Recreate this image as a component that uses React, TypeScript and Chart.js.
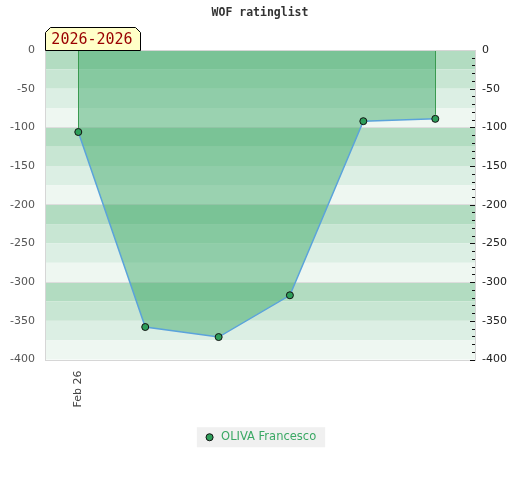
import React, { useEffect, useRef } from 'react';
import { Chart, registerables } from 'chart.js';

Chart.register(...registerables);

const chartTitle = 'WOF ratinglist';
const seasonLabel = '2026-2026';
const playerName = 'OLIVA Francesco';
const xPositions = [0, 0.93, 1.95, 2.94, 3.96, 4.96];
const ratingValues = [-106, -358, -371, -317, -92, -89];
const xTickValues = [0];
const xTickLabels = ['Feb 26'];
const yMin = -400;
const yMax = 0;
const yStep = 50;
const minorTickStep = 10;
const bandStep = 25;
const bandColors = ['#b2dcc1', '#c8e6d3', '#dcefe4', '#eef7f1'];

export default function App() {
  const canvasRef = useRef<HTMLCanvasElement | null>(null);

  useEffect(() => {
    document.body.style.margin = '0';
    const canvas = canvasRef.current;
    if (!canvas) return;

    const bandsPlugin = {
      id: 'bands',
      beforeDraw(chart: any) {
        const { ctx, chartArea, scales } = chart;
        const y = scales.y;
        ctx.save();
        let i = 0;
        for (let v = yMax; v > yMin; v -= bandStep, i++) {
          const top = y.getPixelForValue(v);
          const bottom = y.getPixelForValue(v - bandStep);
          ctx.fillStyle = bandColors[i % bandColors.length];
          ctx.fillRect(chartArea.left, top, chartArea.right - chartArea.left, bottom - top);
        }
        const hb = chart.legend && chart.legend.legendHitBoxes && chart.legend.legendHitBoxes[0];
        if (hb) {
          ctx.fillStyle = '#f0f0f0';
          const cy = hb.top + hb.height / 2;
          ctx.fillRect(hb.left - 7, cy - 10, hb.width + 16, 20);
        }
        ctx.restore();
      },
    };

    const overlayPlugin = {
      id: 'overlay',
      afterDatasetsDraw(chart: any) {
        const { ctx, scales } = chart;
        const x = scales.x;
        const y = scales.y;
        ctx.save();
        ctx.strokeStyle = '#3a9a50';
        ctx.lineWidth = 1;
        const ends = [0, xPositions.length - 1];
        ends.forEach((idx) => {
          const px = Math.round(x.getPixelForValue(xPositions[idx])) + 0.5;
          const py = y.getPixelForValue(ratingValues[idx]) - 4;
          ctx.beginPath();
          ctx.moveTo(px, y.getPixelForValue(yMax));
          ctx.lineTo(px, py);
          ctx.stroke();
        });
        ctx.restore();
      },
      afterDraw(chart: any) {
        const { ctx, chartArea, scales } = chart;
        const y2 = scales.y2;
        ctx.save();
        ctx.strokeStyle = '#d6d6d6';
        ctx.lineWidth = 1;
        ctx.strokeRect(
          Math.round(chartArea.left) + 0.5,
          Math.round(chartArea.top) + 0.5,
          Math.round(chartArea.right - chartArea.left),
          Math.round(chartArea.bottom - chartArea.top)
        );
        ctx.strokeStyle = '#111';
        for (let v = yMax - minorTickStep; v >= yMin; v -= minorTickStep) {
          const py = Math.round(y2.getPixelForValue(v)) + 0.5;
          const len = v % yStep === 0 ? 5 : 3;
          ctx.beginPath();
          ctx.moveTo(chartArea.right - len, py);
          ctx.lineTo(chartArea.right, py);
          ctx.stroke();
        }
        const l = Math.round(chartArea.left) + 0.5;
        const b = Math.round(chartArea.top) + 0.5;
        const t = b - 23;
        const r = l + 95;
        const c = 5;
        ctx.beginPath();
        ctx.moveTo(l, b);
        ctx.lineTo(l, t + c);
        ctx.lineTo(l + c, t);
        ctx.lineTo(r - c, t);
        ctx.lineTo(r, t + c);
        ctx.lineTo(r, b);
        ctx.closePath();
        ctx.fillStyle = '#ffffc8';
        ctx.fill();
        ctx.strokeStyle = '#000';
        ctx.stroke();
        ctx.fillStyle = '#990000';
        ctx.font = '15px "DejaVu Sans Mono"';
        ctx.textAlign = 'center';
        ctx.textBaseline = 'middle';
        ctx.fillText(seasonLabel, (l + r) / 2 - 1, (t + b) / 2 + 1);
        ctx.restore();
      },
    };

    Chart.defaults.font.family = 'DejaVu Sans';

    const chart = new Chart(canvas, {
      type: 'line',
      data: {
        datasets: [
          {
            label: playerName,
            data: xPositions.map((xv, i) => ({ x: xv, y: ratingValues[i] })),
            borderColor: '#5ba3db',
            borderWidth: 1.5,
            backgroundColor: 'rgba(59,168,101,0.47)',
            fill: 'origin',
            tension: 0,
            pointRadius: 3.5,
            pointHoverRadius: 3.5,
            pointBackgroundColor: '#2e9e5a',
            pointBorderColor: '#111',
            pointBorderWidth: 1,
          },
        ],
      },
      options: {
        animation: false,
        responsive: false,
        events: [],
        layout: { padding: { left: 0, right: 0, top: 0, bottom: 27 } },
        plugins: {
          title: {
            display: true,
            text: chartTitle,
            color: '#333',
            font: { family: 'DejaVu Sans Mono', size: 11.5, weight: 'bold' },
            padding: { top: 6, bottom: 30.2 },
          },
          legend: {
            display: true,
            position: 'bottom',
            labels: {
              usePointStyle: true,
              boxHeight: 5,
              padding: 10,
              color: '#3aa864',
              font: { family: 'DejaVu Sans', size: 11.5 },
            },
          },
          tooltip: { enabled: false },
        },
        scales: {
          x: {
            type: 'linear',
            min: -0.4626,
            max: 5.5116,
            afterBuildTicks: (scale: any) => {
              scale.ticks = xTickValues.map((v) => ({ value: v }));
            },
            afterFit: (scale: any) => {
              scale.height = 62;
            },
            grid: { display: false, drawTicks: false },
            border: { display: false },
            ticks: {
              minRotation: 90,
              maxRotation: 90,
              padding: 11,
              color: '#444',
              font: { size: 11 },
              callback: (value: any) => {
                const idx = xTickValues.indexOf(Number(value));
                return idx >= 0 ? xTickLabels[idx] : '';
              },
            },
          },
          y: {
            type: 'linear',
            position: 'left',
            min: yMin,
            max: yMax,
            afterFit: (scale: any) => {
              scale.width = 45;
            },
            border: { display: false },
            grid: {
              drawTicks: false,
              color: (ctx: any) =>
                ctx.tick && ctx.tick.value % 100 === 0 && ctx.tick.value !== yMax && ctx.tick.value !== yMin
                  ? '#dddddd'
                  : 'rgba(0,0,0,0)',
            },
            ticks: {
              stepSize: yStep,
              padding: 10,
              color: '#555',
              font: { size: 11 },
              autoSkip: false,
            },
          },
          y2: {
            type: 'linear',
            position: 'right',
            min: yMin,
            max: yMax,
            afterFit: (scale: any) => {
              scale.width = 45;
            },
            border: { display: false },
            grid: { display: false, drawOnChartArea: false, drawTicks: false },
            ticks: {
              stepSize: yStep,
              padding: 7,
              color: '#222',
              font: { size: 11 },
              autoSkip: false,
            },
          },
        },
      },
      plugins: [bandsPlugin, overlayPlugin],
    } as any);

    return () => {
      chart.destroy();
    };
  }, []);

  return (
    <div style={{ width: 520, height: 480 }}>
      <canvas ref={canvasRef} width={520} height={480} />
    </div>
  );
}
